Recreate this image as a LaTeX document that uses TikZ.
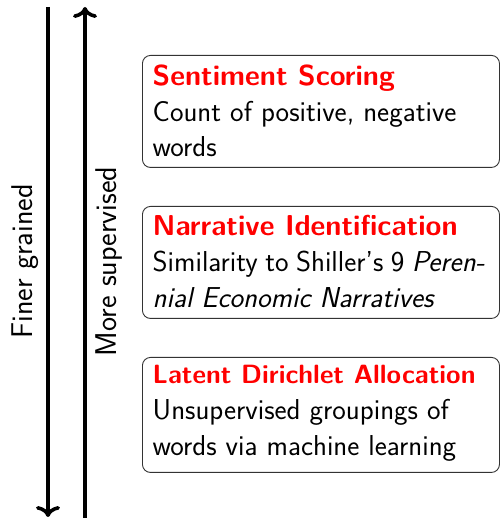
\documentclass[tikz,border=0pt]{standalone}
\usetikzlibrary{arrows.meta}
\definecolor{titlered}{RGB}{255,0,0}
\tikzset{
  axisline/.style={line width=3.6pt, -{Computer Modern Rightarrow[width=24pt,length=11pt,line width=3.6pt]}},
  sidelabel/.style={rotate=90, font=\sffamily\fontsize{30}{36}\selectfont, inner sep=0pt},
  methodbox/.style={draw=black!80, line width=0.9pt, rounded corners=8pt,
    minimum width=357pt, minimum height=112pt, anchor=north west, inner sep=0pt},
  methodtext/.style={anchor=north west, align=left, inner sep=0pt,
    font=\sffamily\fontsize{28.8}{35.8}\selectfont},
}
\newcommand{\methodtitle}[1]{{\color{titlered}\bfseries #1}}
\begin{document}
\begin{tikzpicture}[x=1pt,y=1pt]
\useasboundingbox (0,0) rectangle (501,518);

% vertical axes
\coordinate (fineTop) at (48,511);
\coordinate (fineBot) at (48,1);
\coordinate (supTop) at (85,511);
\coordinate (supBot) at (85,0);
\draw[axisline] (fineTop) -- (fineBot);
\draw[axisline] (supBot) -- (supTop);

\node[sidelabel, anchor=base] (finer) at (32,256.5) {Finer grained};
\node[sidelabel, anchor=base] (super) at (116,256.5) {More supervised};

% method boxes
\node[methodbox] (box1) at (142,463) {};
\node[methodbox] (box2) at (142,312) {};
\node[methodbox, minimum height=115pt] (box3) at (142,161) {};

\node[methodtext] (txt1) at ([shift={(10.5,-9.5)}]box1.north west)
  {\methodtitle{Sentiment Scoring}\\Count of positive, negative\\words};
\node[methodtext] (txt2) at ([shift={(10.5,-9.5)}]box2.north west)
  {\methodtitle{Narrative Identification}\\\hbox to 332pt{Similarity to Shiller's 9 \textit{Peren-}}\\\textit{nial Economic Narratives}};
\node[methodtext] (txt3) at ([shift={(10.5,-8)}]box3.north west)
  {\methodtitle{\fontsize{26.4}{35.8}\selectfont Latent Dirichlet Allocation}\\Unsupervised groupings of\\words via machine learning};
\end{tikzpicture}
\end{document}
